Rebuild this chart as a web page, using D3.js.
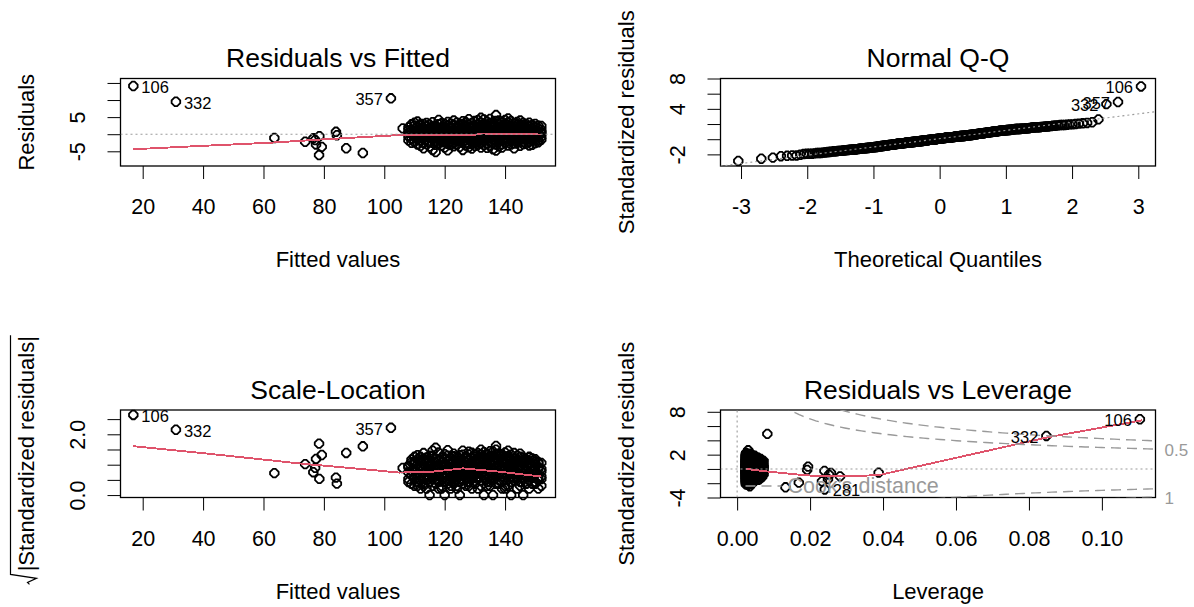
<!DOCTYPE html>
<html>
<head>
<meta charset="utf-8">
<title>lm diagnostics</title>
<script src="https://cdn.jsdelivr.net/npm/d3@7"></script>
<style>
  body { margin: 0; background: #fff; }
  .chart-container text { font-family: "Liberation Sans", Arial, sans-serif; fill: #000; }
</style>
</head>
<body>
<div class="chart-container"></div>
<script>
/*** DATA ***/
// observations lying away from the main cloud: fitted value, raw residual, row id
const sparseFitted = [16.9, 31.0, 102.2, 63.6, 73.8, 76.5, 77.1, 77.4, 78.5, 78.4, 79.3, 84.0, 84.3, 87.4, 92.9, 106.1];
const sparseResid  = [14.1, 9.5, 10.5, -1.1, -2.2, -1.2, -1.7, -3.0, -0.6, -6.1, -3.7, 0.7, -0.3, -4.1, -5.5, 1.7];
const sparseId     = ['106', '332', '357', '', '', '', '', '', '', '281', '', '', '', '', '', ''];

// the dense cloud: fitted value (rounded) and the residuals seen at it
const cloudFitted = [108, 109, 110, 111, 112, 113, 114, 115, 116, 117, 118, 119, 120, 121, 122,
  123, 124, 125, 126, 127, 128, 129, 130, 131, 132, 133, 134, 135, 136, 137, 138, 139, 140,
  141, 142, 143, 144, 145, 146, 147, 148, 149, 150, 151, 152];
const cloudResid = [
  [1.2, -0.6, 2.0, -1.8, 0.4],
  [-1.4, 0.3, 2.9, 0.9, -2.5],
  [3.4, -0.8, 0.6, -2.3, 1.5, -0.2, 2.6],
  [3.7, 1.1, -0.2, -1.6, 0.4, -3.0, 2.2, -0.9],
  [2.6, 0.9, -0.5, -1.9, 0.1, -3.4, 1.6, -0.9, 2.9],
  [1.8, -0.3, 0.7, -2.6, 3.0, -1.2, 0.2, -4.1],
  [0.5, 2.4, -1.5, -0.1, 1.3, -2.9, -0.7, 3.3],
  [-0.4, 1.9, -2.2, 0.8, 2.8, -1.1, 0.0, -3.6, 1.4],
  [-4.6, 0.6, 2.1, -1.3, -0.2, 3.5, -2.5, 1.0, -0.8],
  [-5.2, -2.0, 0.3, 1.7, -0.6, 2.5, 0.9, -3.1, -1.0],
  [4.2, 1.2, -0.4, -1.8, 0.5, 2.9, -2.7, -0.9, 0.1],
  [-3.3, 0.8, 2.0, -0.1, -1.4, 1.5, 3.2, -2.4, 0.2],
  [2.3, -0.7, 0.4, -2.0, 1.1, -3.9, 3.0, -1.2, 0.0, 1.7],
  [-4.7, 1.4, -0.3, 0.9, -1.6, 2.6, -2.8, 0.5, 3.6, -0.9],
  [0.7, -2.3, 1.8, -0.5, 3.1, -1.3, 0.2, -3.2, 2.2, -0.1],
  [-1.0, 2.7, 0.3, -2.6, 1.2, -0.4, 4.0, -1.7, 0.8, -3.5],
  [1.6, -0.2, -1.9, 3.4, 0.6, -3.0, 2.1, -0.8, 0.1, -1.3],
  [-2.1, 0.9, 2.4, -0.6, -3.7, 1.3, 0.0, 3.0, -1.5, 0.4],
  [-4.6, 1.9, -0.9, 0.5, 2.9, -2.4, 1.0, -0.3, 3.8, -1.4],
  [0.2, -1.8, 2.5, -0.7, 1.4, -3.3, 3.5, 0.7, -1.1, -2.6],
  [2.0, -0.4, -2.9, 1.1, 4.4, -1.6, 0.4, 2.8, -0.2, -3.8],
  [-1.2, 3.3, 0.8, -2.2, 1.7, -0.6, -4.2, 2.3, 0.1, 1.0],
  [1.5, -2.7, 0.3, 3.9, -1.0, 2.4, -0.3, -3.4, 0.9, -1.7],
  [-0.8, 2.1, -3.1, 0.6, 4.1, -1.9, 1.3, -0.1, 2.9, -2.4],
  [4.8, -1.4, 0.2, 2.6, -2.6, 1.0, -0.5, 3.4, -3.9, 1.8],
  [-2.0, 0.7, 3.1, -0.9, 1.6, -3.2, 2.2, 0.0, -1.3, 4.3],
  [0.4, -2.8, 1.9, 3.7, -0.6, -1.5, 2.7, -4.0, 1.1, -0.2],
  [2.5, -1.1, -3.5, 0.8, 1.4, -0.4, 3.2, -2.3, 0.2, 4.5],
  [-1.6, 3.6, 0.5, -2.5, 2.0, -0.7, 1.2, -4.4, 2.9, 0.0],
  [5.6, -0.3, 1.7, -1.9, 0.9, -3.0, 2.4, -4.8, 3.9, -0.9],
  [1.1, -2.2, 3.0, -0.5, 0.3, -3.6, 2.1, -1.2, 4.0, 1.5],
  [-0.1, 2.6, -1.7, 1.0, -2.9, 3.4, 0.4, -0.8, 1.9, -3.9],
  [3.1, -1.0, 0.6, -2.6, 1.8, -0.2, 4.2, -1.6, 2.4, 0.1],
  [4.6, -0.6, 1.3, -3.3, 0.2, 2.7, -1.5, 0.9, -2.1, 3.5],
  [0.8, -2.0, 2.3, -0.4, 3.8, -1.1, 1.4, -3.0, 0.0, 2.0],
  [-1.3, 1.6, -2.7, 3.1, 0.5, -0.7, 2.2, -4.1, 1.0],
  [2.9, -0.5, 0.7, -1.8, 3.6, 1.2, -2.5, 0.1, -1.0],
  [-0.9, 1.8, -3.4, 0.4, 2.5, -1.5, 0.9, 4.0, -0.2],
  [1.4, -2.3, 0.0, 2.8, -1.1, 0.6, 3.3, -0.6, -2.9],
  [-1.6, 0.8, 2.1, -0.3, -2.8, 1.5, 3.0, -0.9, 0.3],
  [0.5, 2.4, -1.2, -0.1, 1.1, -2.2, 3.4, -3.3, 0.9],
  [1.9, -0.7, 0.3, -2.0, 2.7, -1.3, 0.8, -3.1],
  [-1.0, 1.2, -2.6, 0.4, 2.2, -0.3, 3.0, -1.7],
  [0.7, -1.8, 1.6, -0.5, 2.5, -2.4, 0.1],
  [-0.8, 1.3, 0.2, 2.4, -1.6, 0.6]
];

const sigmaHat = 2.15;            // residual standard error
const nCoef = 2;                  // intercept + slope
const residIds = ['106', '332', '357'];   // 3 largest |residuals|
const cookIds = ['106', '332', '281'];    // 3 largest Cook's distances
const cookLevels = [0.5, 1];

// red lowess smoothers
const rfSmoothX = [16.9, 40, 62, 80, 100, 108, 120, 130, 132, 145, 152];
const rfSmoothY = [-4.4, -3.4, -2.5, -1.5, -0.5, -0.1, -0.3, -0.2, 0.2, 0.1, -0.1];
const slSmoothX = [16.9, 40, 73, 90, 105, 116, 126, 138, 152];
const slSmoothY = [1.61, 1.38, 1.03, 0.88, 0.74, 0.77, 0.88, 0.77, 0.61];
const lvSmoothX = [0.0025, 0.008, 0.017, 0.023, 0.03, 0.039, 0.0853, 0.111];
const lvSmoothY = [0.0, -0.35, -0.8, -1.05, -1.05, -0.85, 4.45, 6.8];

// axis ranges, ticks and the tick labels R kept
const fitDomain = [12.65, 156.7];
const fitTicks = [20, 40, 60, 80, 100, 120, 140];
const fitLabels = ['20', '40', '60', '80', '100', '120', '140'];
const rfYDomain = [-9.3, 16.3];
const rfYTicks = [-5, 0, 5, 10, 15];
const rfYLabels = ['-5', '', '5', '', ''];
const qqXDomain = [-3.31, 3.26];
const qqXTicks = [-3, -2, -1, 0, 1, 2, 3];
const qqXLabels = ['-3', '-2', '-1', '0', '1', '2', '3'];
const qqYDomain = [-3.53, 8.0];
const qqYTicks = [-2, 0, 2, 4, 6, 8];
const qqYLabels = ['-2', '', '', '4', '', '8'];
const slYDomain = [-0.08, 2.8];
const slYTicks = [0, 0.5, 1, 1.5, 2, 2.5];
const slYLabels = ['0.0', '', '', '', '2.0', ''];
const lvXDomain = [-0.00456, 0.1147];
const lvXTicks = [0, 0.02, 0.04, 0.06, 0.08, 0.10];
const lvXLabels = ['0.00', '0.02', '0.04', '0.06', '0.08', '0.10'];
const lvYDomain = [-4.0, 8.25];
const lvYTicks = [-4, -2, 0, 2, 4, 6, 8];
const lvYLabels = ['-4', '', '', '2', '', '', '8'];

/*** HELPERS ***/
// inverse normal cdf (Abramowitz & Stegun 26.2.23)
function qnorm(p) {
  const q = p < 0.5 ? p : 1 - p;
  const t = Math.sqrt(-2 * Math.log(q));
  const z = t - (2.515517 + 0.802853 * t + 0.010328 * t * t) /
    (1 + 1.432788 * t + 0.189269 * t * t + 0.001308 * t * t * t);
  return p < 0.5 ? -z : z;
}

/*** MODEL QUANTITIES ***/
const obs = [];
sparseFitted.forEach((f, i) => obs.push({ id: sparseId[i], fitted: f, resid: sparseResid[i] }));
cloudFitted.forEach((f, j) => cloudResid[j].forEach(r => obs.push({ id: '', fitted: f, resid: r })));

// one predictor, so the hat values follow from the fitted values
const n = obs.length;
const meanFit = d3.mean(obs, d => d.fitted);
const ssFit = d3.sum(obs, d => (d.fitted - meanFit) ** 2);
obs.forEach(d => {
  d.hat = 1 / n + (d.fitted - meanFit) ** 2 / ssFit;
  d.std = d.resid / (sigmaHat * Math.sqrt(1 - d.hat));
  d.sqrtStd = Math.sqrt(Math.abs(d.std));
});
const qq = obs.slice().sort((a, b) => a.std - b.std);
qq.forEach((d, i) => { d.theo = qnorm((i + 0.5) / n); });

/*** LAYOUT ***/
const boxW = 435, boxH = 87.5;
const colLeft = [120.5, 720.5];
const rowTop = [78.5, 410];
const smoothRed = '#DF536B';
const refGray = '#9a9a9a';
const textGray = '#999999';
const ring = 'M-1.3,-4.3L1.3,-4.3L4.3,-1.3L4.3,1.3L1.3,4.3L-1.3,4.3L-4.3,1.3L-4.3,-1.3Z';

const svg = d3.select('.chart-container')
  .append('svg')
  .attr('width', 1194)
  .attr('height', 607);

function drawPanel(o) {
  const left = colLeft[o.col], top = rowTop[o.row];
  const x = d3.scaleLinear().domain(o.xDomain).range([left, left + boxW]);
  const y = d3.scaleLinear().domain(o.yDomain).range([top + boxH, top]);
  const g = svg.append('g');

  g.append('g')
    .attr('transform', `translate(0, ${top + boxH})`)
    .call(d3.axisBottom(x).tickValues(o.xTicks).tickFormat((d, i) => o.xLabels[i]).tickSize(13).tickPadding(20))
    .call(a => a.select('.domain').remove())
    .attr('font-family', null)
    .attr('font-size', 21.5);

  // y labels run parallel to the axis (R las = 0)
  g.append('g')
    .attr('transform', `translate(${left}, 0)`)
    .call(d3.axisLeft(y).tickValues(o.yTicks).tickFormat((d, i) => o.yLabels[i]).tickSize(13))
    .call(a => a.select('.domain').remove())
    .attr('font-family', null)
    .attr('font-size', 21.5)
    .selectAll('.tick text')
    .attr('x', 0)
    .attr('y', -36)
    .attr('dy', null)
    .attr('text-anchor', 'middle')
    .attr('transform', 'rotate(-90)');

  g.append('rect')
    .attr('x', left).attr('y', top)
    .attr('width', boxW).attr('height', boxH)
    .attr('fill', 'none')
    .attr('stroke', '#000')
    .attr('stroke-width', 1.3);

  g.append('text')
    .attr('x', left + boxW / 2)
    .attr('y', top - 11.5)
    .attr('text-anchor', 'middle')
    .style('font-size', '26.5px')
    .text(o.title);

  g.append('text')
    .attr('x', left + boxW / 2)
    .attr('y', top + boxH + 101)
    .attr('text-anchor', 'middle')
    .style('font-size', '22px')
    .text(o.xLab);

  const ylab = g.append('g')
    .attr('transform', `translate(${left - 87}, ${top + boxH / 2}) rotate(-90)`);
  const yt = ylab.append('text')
    .attr('text-anchor', 'middle')
    .style('font-size', '22px')
    .text(o.yLab);
  if (o.sqrtLab) {
    // radical sign over |Standardized residuals|
    const w = yt.node().getComputedTextLength();
    const x0 = -w / 2, x1 = w / 2;
    ylab.append('path')
      .attr('d', `M${x0 - 13},-4L${x0 - 11},-6L${x0 - 7},3L${x0 - 3},-23L${x1 + 1},-23`)
      .attr('fill', 'none')
      .attr('stroke', '#000')
      .attr('stroke-width', 1.2);
  }

  const clipId = `clip-${o.row}-${o.col}`;
  svg.append('clipPath').attr('id', clipId)
    .append('rect').attr('x', left).attr('y', top).attr('width', boxW).attr('height', boxH);

  return { g, x, y, left, top, clipId };
}

function drawPoints(p, data, xv, yv) {
  p.g.append('g')
    .selectAll('path')
    .data(data)
    .join('path')
    .attr('d', ring)
    .attr('transform', d => `translate(${p.x(xv(d))}, ${p.y(yv(d))})`)
    .attr('fill', 'none')
    .attr('stroke', '#000')
    .attr('stroke-width', 1.8);
}

function drawSmooth(p, xs, ys) {
  p.g.append('path')
    .datum(xs.map((v, i) => [v, ys[i]]))
    .attr('d', d3.line().x(d => p.x(d[0])).y(d => p.y(d[1])))
    .attr('fill', 'none')
    .attr('stroke', smoothRed)
    .attr('stroke-width', 1.9)
    .style('shape-rendering', 'crispEdges');
}

function drawRef(p, pts, dash, width) {
  p.g.append('path')
    .datum(pts)
    .attr('clip-path', `url(#${p.clipId})`)
    .attr('d', d3.line().x(d => p.x(d[0])).y(d => p.y(d[1])))
    .attr('fill', 'none')
    .attr('stroke', refGray)
    .attr('stroke-width', width || 1.1)
    .attr('stroke-dasharray', dash);
}

// R's text.id: label right of the point on the left half, left of it otherwise
function drawIds(p, data, xv, yv, ids) {
  const ext = d3.extent(data, xv);
  const mid = (ext[0] + ext[1]) / 2;
  p.g.append('g')
    .selectAll('text')
    .data(data.filter(d => ids.includes(d.id)))
    .join('text')
    .attr('x', d => p.x(xv(d)) + (xv(d) > mid ? -8 : 8))
    .attr('y', d => p.y(yv(d)) + 7)
    .attr('text-anchor', d => xv(d) > mid ? 'end' : 'start')
    .style('font-size', '16.5px')
    .text(d => d.id);
}

/*** PANEL 1: RESIDUALS VS FITTED ***/
const rf = drawPanel({ col: 0, row: 0, xDomain: fitDomain, yDomain: rfYDomain,
  xTicks: fitTicks, xLabels: fitLabels, yTicks: rfYTicks, yLabels: rfYLabels,
  title: 'Residuals vs Fitted', xLab: 'Fitted values', yLab: 'Residuals' });
drawPoints(rf, obs, d => d.fitted, d => d.resid);
drawSmooth(rf, rfSmoothX, rfSmoothY);
drawRef(rf, [[fitDomain[0], 0], [fitDomain[1], 0]], '2,3');
drawIds(rf, obs, d => d.fitted, d => d.resid, residIds);

/*** PANEL 2: NORMAL Q-Q ***/
const qqp = drawPanel({ col: 1, row: 0, xDomain: qqXDomain, yDomain: qqYDomain,
  xTicks: qqXTicks, xLabels: qqXLabels, yTicks: qqYTicks, yLabels: qqYLabels,
  title: 'Normal Q-Q', xLab: 'Theoretical Quantiles', yLab: 'Standardized residuals' });
drawPoints(qqp, qq, d => d.theo, d => d.std);
// qqline through the quartiles
const stds = qq.map(d => d.std);
const q1 = d3.quantile(stds, 0.25), q3 = d3.quantile(stds, 0.75);
const qSlope = (q3 - q1) / (qnorm(0.75) - qnorm(0.25));
const qInt = q1 - qSlope * qnorm(0.25);
drawRef(qqp, qqXDomain.map(v => [v, qInt + qSlope * v]), '2,3');
drawIds(qqp, qq, d => d.theo, d => d.std, residIds);

/*** PANEL 3: SCALE-LOCATION ***/
const sl = drawPanel({ col: 0, row: 1, xDomain: fitDomain, yDomain: slYDomain,
  xTicks: fitTicks, xLabels: fitLabels, yTicks: slYTicks, yLabels: slYLabels,
  title: 'Scale-Location', xLab: 'Fitted values', yLab: '|Standardized residuals|', sqrtLab: true });
drawPoints(sl, obs, d => d.fitted, d => d.sqrtStd);
drawSmooth(sl, slSmoothX, slSmoothY);
drawIds(sl, obs, d => d.fitted, d => d.sqrtStd, residIds);

/*** PANEL 4: RESIDUALS VS LEVERAGE ***/
const lv = drawPanel({ col: 1, row: 1, xDomain: lvXDomain, yDomain: lvYDomain,
  xTicks: lvXTicks, xLabels: lvXLabels, yTicks: lvYTicks, yLabels: lvYLabels,
  title: 'Residuals vs Leverage', xLab: 'Leverage', yLab: 'Standardized residuals' });
drawPoints(lv, obs, d => d.hat, d => d.std);
drawSmooth(lv, lvSmoothX, lvSmoothY);
drawRef(lv, [[lvXDomain[0], 0], [lvXDomain[1], 0]], '2,3');
drawRef(lv, [[0, lvYDomain[0]], [0, lvYDomain[1]]], '2,3');

// Cook's distance contours
const hExt = d3.extent(obs, d => d.hat);
const h0 = Math.min(hExt[0], hExt[1] / 100);
const hMax = lvXDomain[1];
const hh = d3.range(101).map(i => h0 + i * (hMax - h0) / 100);
cookLevels.forEach(level => {
  [1, -1].forEach(sign => {
    drawRef(lv, hh.map(h => [h, sign * Math.sqrt(level * nCoef * (1 - h) / h)]), '10,6', 1.4);
  });
});

// right-hand contour labels (R drops the overlapping pair)
const cookAxis = [{ level: 0.5, sign: 1 }, { level: 1, sign: -1 }];
lv.g.append('g')
  .selectAll('text')
  .data(cookAxis)
  .join('text')
  .attr('x', lv.left + boxW + 9)
  .attr('y', d => lv.y(d.sign * Math.sqrt(d.level * nCoef * (1 - hMax) / hMax)) + 7)
  .style('font-size', '17px')
  .style('fill', textGray)
  .text(d => String(d.level));

// legend, bottom left
lv.g.append('line')
  .attr('x1', lv.left + 25).attr('x2', lv.left + 61)
  .attr('y1', lv.top + boxH - 11.5).attr('y2', lv.top + boxH - 11.5)
  .attr('stroke', refGray)
  .attr('stroke-width', 1.4)
  .attr('stroke-dasharray', '10,6');
lv.g.append('text')
  .attr('x', lv.left + 67)
  .attr('y', lv.top + boxH - 5)
  .style('font-size', '21.5px')
  .style('fill', textGray)
  .text("Cook's distance");

drawIds(lv, obs, d => d.hat, d => d.std, cookIds);
</script>
</body>
</html>
